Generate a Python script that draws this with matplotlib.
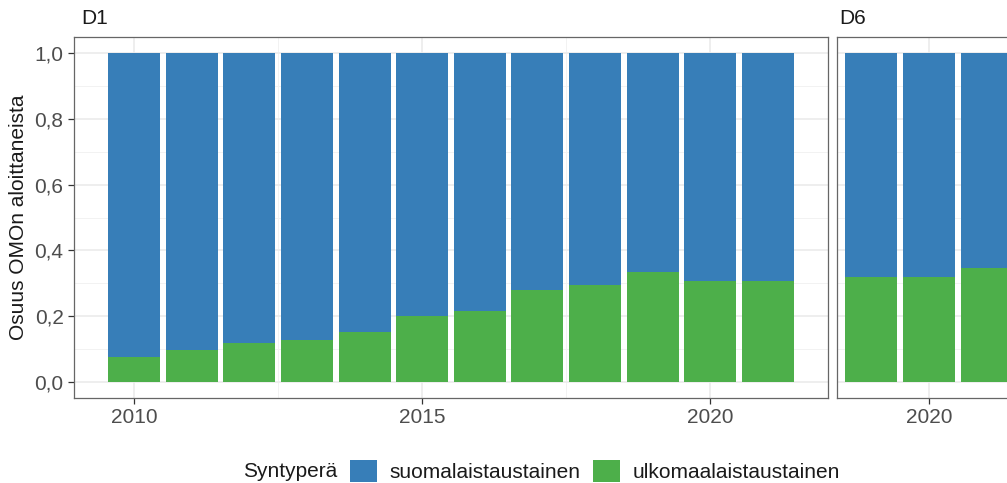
import numpy as np
import matplotlib
matplotlib.use("Agg")
import matplotlib.pyplot as plt

plt.rcParams['font.family'] = ['Liberation Sans', 'DejaVu Sans']

# data
years_d1 = [2010, 2011, 2012, 2013, 2014, 2015, 2016, 2017, 2018, 2019, 2020, 2021]
ulk_d1 = [0.074, 0.097, 0.119, 0.127, 0.151, 0.201, 0.216, 0.280, 0.294, 0.334, 0.305, 0.308]
suo_d1 = [0.926, 0.903, 0.881, 0.873, 0.849, 0.799, 0.784, 0.720, 0.706, 0.666, 0.695, 0.692]

years_d6 = [2019, 2020, 2021]
ulk_d6 = [0.318, 0.319, 0.347]
suo_d6 = [0.682, 0.681, 0.653]

panels = ["D1", "D6"]
legend_title = "Syntyperä"
labels = ["suomalaistaustainen", "ulkomaalaistaustainen"]
blue = "#377EB8"
green = "#4DAF4A"

FS = 15
W, H = 1007, 483
fig = plt.figure(figsize=(W / 100, H / 100), dpi=100)

def px_box(x0, x1, y0, y1):
    return [x0 / W, (H - y1) / H, (x1 - x0) / W, (y1 - y0) / H]

ax1 = fig.add_axes(px_box(74, 828, 37, 398))
ax2 = fig.add_axes(px_box(837, 1021, 37, 398))

def style(ax, xlim, xmajor, xminor, ylabels=True):
    ax.set_xlim(*xlim)
    ax.set_ylim(-0.05, 1.05)
    ax.set_xticks(xmajor)
    ax.set_xticks(xminor, minor=True)
    ax.set_yticks([0, 0.2, 0.4, 0.6, 0.8, 1.0])
    ax.set_yticks([0.1, 0.3, 0.5, 0.7, 0.9], minor=True)
    ax.grid(which='major', color='#EBEBEB', lw=1.2)
    ax.grid(which='minor', color='#F2F2F2', lw=0.7)
    ax.set_axisbelow(True)
    for s in ax.spines.values():
        s.set_color('#666666')
        s.set_linewidth(0.9)
    ax.tick_params(which='major', length=4.5, width=0.9, color='#333333',
                   labelsize=FS, labelcolor='#4D4D4D', pad=3)
    ax.tick_params(which='minor', length=0)
    ax.set_xticklabels([str(x) for x in xmajor])
    if ylabels:
        ax.set_yticklabels(["0,0", "0,2", "0,4", "0,6", "0,8", "1,0"])
    else:
        ax.set_yticklabels([])
        ax.tick_params(axis='y', which='major', length=0)

style(ax1, (2008.955, 2022.045), [2010, 2015, 2020], [2012.5, 2017.5])
style(ax2, (2018.405, 2021.595), [2020], [], ylabels=False)

h_ulk = ax1.bar(years_d1, ulk_d1, width=0.9, color=green, zorder=2)
h_suo = ax1.bar(years_d1, suo_d1, bottom=ulk_d1, width=0.9, color=blue, zorder=2)
ax2.bar(years_d6, ulk_d6, width=0.9, color=green, zorder=2)
ax2.bar(years_d6, suo_d6, bottom=ulk_d6, width=0.9, color=blue, zorder=2)

ax1.set_ylabel("Osuus OMOn aloittaneista", fontsize=FS, color='#1A1A1A', labelpad=5)

for ax, name in zip([ax1, ax2], panels):
    ax.text(0.01, 1.025, name, transform=ax.transAxes, fontsize=FS,
            color='#1A1A1A', ha='left', va='bottom')

fig.text(243 / W, (H - 477) / H, legend_title, fontsize=FS, color='#1A1A1A',
         ha='left', va='baseline')
fig.legend([h_suo, h_ulk], labels, ncol=2, frameon=False, fontsize=FS,
           loc='center left', bbox_to_anchor=(350 / W, (H - 471) / H),
           handlelength=1.3, handleheight=1.25, handletextpad=0.6,
           columnspacing=0.6, borderpad=0, borderaxespad=0, labelcolor='#1A1A1A')

fig.savefig("out.png", dpi=100)
